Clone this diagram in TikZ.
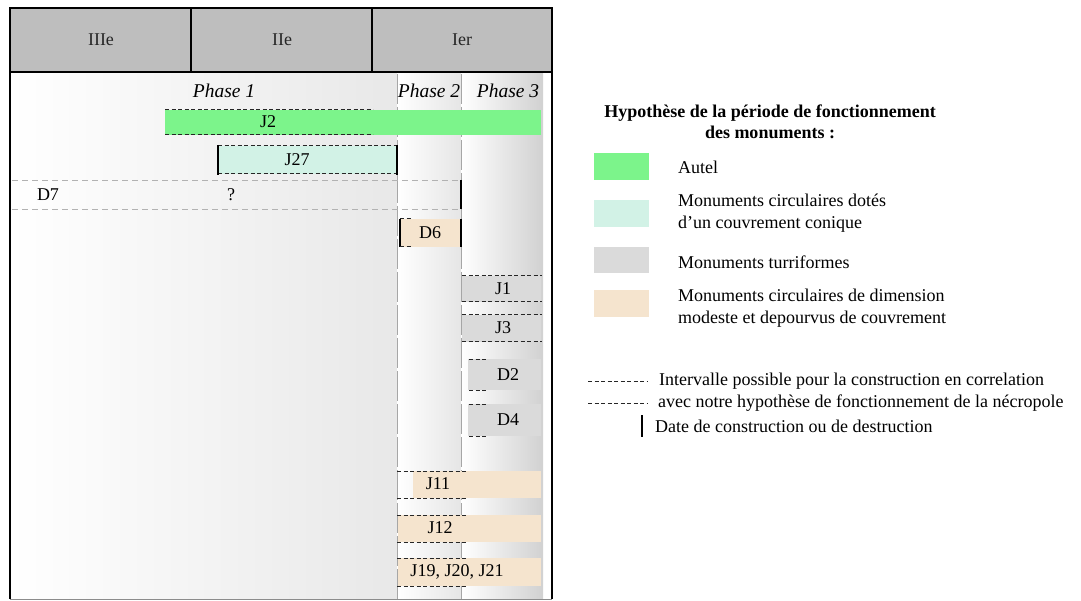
\documentclass[tikz,border=0pt]{standalone}
\usepackage{fontspec}
\setmainfont{Liberation Serif}
\usetikzlibrary{positioning}

\definecolor{autel}{HTML}{7CF48B}
\definecolor{conique}{HTML}{D2F2E6}
\definecolor{turri}{HTML}{DADADA}
\definecolor{modeste}{HTML}{F5E4CE}
\definecolor{entete}{HTML}{BEBEBE}

\tikzset{
  tiret/.style={black!85, line width=1pt, dash pattern=on 4pt off 2.5pt},
  pointille/.style={black!30, line width=0.8pt, dash pattern=on 6pt off 4pt},
  separation/.style={black!35, line width=0.8pt, dash pattern=on 30pt off 3pt},
  datation/.style={black, line width=2pt},
  etiquette/.style={inner sep=0pt, anchor=west, align=left}
}

\begin{document}
\begin{tikzpicture}[x=1pt, y=-1pt, font=\fontsize{18}{22}\selectfont]

\useasboundingbox (0,0) rectangle (1081,601);

% Fond des trois phases
\shade[left color=white, right color=black!9] (10,72) rectangle (397,599);
\shade[left color=white, right color=black!10] (397,72) rectangle (461,599);
\shade[left color=white, right color=black!18] (461,72) rectangle (543,599);
\draw[separation] (397,74) -- (397,599);
\draw[separation] (461,74) -- (461,599);

% En-tete des siecles
\fill[entete] (10,8) rectangle (552,72);
\draw[line width=1.5pt] (10,8) rectangle (552,72);
\draw[line width=1.5pt] (191,8) -- (191,72) (372,8) -- (372,72);
\draw[line width=1.5pt] (10,72) -- (10,599) (552,72) -- (552,599);
\draw[line width=1pt, black!45] (10,599) -- (552,599);
\node[black!85] (s3) at (101,40) {IIIe};
\node[black!85] (s2) at (282,40) {IIe};
\node[black!85] (s1) at (462,40) {Ier};

% Phases
\node[font=\fontsize{19.5}{22}\selectfont\itshape] (ph1) at (224,91) {Phase 1};
\node[font=\fontsize{19.5}{22}\selectfont\itshape] (ph2) at (429,91) {Phase 2};
\node[font=\fontsize{19.5}{22}\selectfont\itshape] (ph3) at (508,91) {Phase 3};

% J2 (autel)
\fill[autel] (165,110) rectangle (541,135);
\draw[tiret] (165,110) -- (373,110) (165,135) -- (373,135);
\node (j2) at (268,122) {J2};

% J27
\fill[conique] (218,146) rectangle (397,174);
\draw[tiret] (218,146) -- (397,146) (218,174) -- (397,174);
\draw[datation] (218,145) -- (218,175) (397,145) -- (397,175);
\node (j27) at (297,160) {J27};

% D7
\draw[pointille] (12,180) -- (461,180) (12,209) -- (461,209);
\draw[datation] (461,180) -- (461,209);
\node (d7) at (48,195) {D7};
\node (d7q) at (231,195) {?};

% D6
\fill[modeste] (400,219) rectangle (461,247);
\draw[datation] (400,219) -- (400,247) (461,219) -- (461,247);
\draw[tiret] (400,219) -- (411,219) (400,247) -- (411,247);
\node (d6) at (430,233) {D6};

% Monuments turriformes
\fill[turri] (462,276) rectangle (541,302);
\draw[tiret] (462,276) -- (542,276) (462,302) -- (542,302);
\node (j1) at (503,289) {J1};
\fill[turri] (462,315) rectangle (541,342);
\draw[tiret] (462,315) -- (542,315) (462,342) -- (542,342);
\node (j3) at (503,328) {J3};
\fill[turri] (468,359) rectangle (541,390);
\draw[tiret] (469,359) -- (487,359) (469,390) -- (487,390);
\node (d2) at (508,375) {D2};
\fill[turri] (468,404) rectangle (541,436);
\draw[tiret] (469,404) -- (487,404) (469,436) -- (487,436);
\node (d4) at (508,420) {D4};

% Petits monuments circulaires
\fill[modeste] (413,471) rectangle (541,498);
\draw[tiret] (397,471) -- (468,471) (397,498) -- (468,498);
\node (j11) at (438,484) {J11};
\fill[modeste] (398,515) rectangle (541,542);
\draw[tiret] (397,515) -- (468,515) (397,542) -- (468,542);
\node (j12) at (440,528) {J12};
\fill[modeste] (398,558) rectangle (541,586);
\draw[tiret] (397,558) -- (468,558) (397,586) -- (468,586);
\node (j19) at (457,572) {J19, J20, J21};

% Legende
\node[font=\fontsize{18}{21}\selectfont\bfseries, align=center] (titre) at (770,122)
  {Hypothèse de la période de fonctionnement\\des monuments :};
\fill[autel] (594,153) rectangle (649,180);
\node[etiquette] (lautel) at (678,167) {Autel};
\fill[conique] (594,200) rectangle (649,227);
\node[etiquette] (lconique) at (678,213) {Monuments circulaires dotés\\d’un couvrement conique};
\fill[turri] (594,247) rectangle (649,273);
\node[etiquette] (lturri) at (678,262) {Monuments turriformes};
\fill[modeste] (594,290) rectangle (649,317);
\node[etiquette] (lmodeste) at (678,308) {Monuments circulaires de dimension\\modeste et depourvus de couvrement};

\draw[tiret, line width=0.8pt] (588,381) -- (648,381) (588,403) -- (648,403);
\node[etiquette] (lint1) at (659,381) {Intervalle possible pour la construction en correlation};
\node[etiquette] (lint2) at (658,403) {avec notre hypothèse de fonctionnement de la nécropole};
\draw[datation] (642,415) -- (642,437);
\node[etiquette] (ldate) at (655,426) {Date de construction ou de destruction};

\end{tikzpicture}
\end{document}
